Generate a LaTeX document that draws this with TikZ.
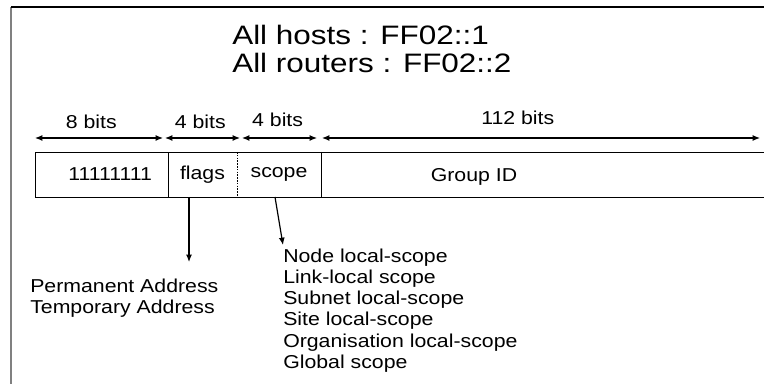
\documentclass[tikz,border=0pt]{standalone}
\usepackage{fontspec}
\setmainfont{Liberation Sans}
\newfontfamily\largefont[FakeStretch=1.18]{Liberation Sans}
\newfontfamily\moyenfont[FakeStretch=1.14]{Liberation Sans}
\usepackage{tikz}
\usetikzlibrary{positioning,arrows.meta}

\begin{document}
\begin{tikzpicture}[x=0.75pt,y=-0.75pt]
% Polices
\def\Titre{\largefont\fontsize{20}{20.3}\selectfont}
\def\Texte{\moyenfont\fontsize{14}{15.8}\selectfont}
% Styles
\tikzstyle{fleche}=[-{Latex[length=5.5pt,width=4.5pt]},line width=0.9pt]
\tikzstyle{cote}=[{Latex[length=5.5pt,width=4.5pt]}-{Latex[length=5.5pt,width=4.5pt]},line width=0.9pt]
\tikzstyle{champ}=[minimum height=33.75pt,inner sep=0pt,outer sep=0pt,font=\Texte]
\tikzstyle{texte}=[inner sep=0pt,align=left,font=\Texte]
\tikzstyle{etiquette}=[inner sep=0pt,font=\Texte]
\useasboundingbox (0,0) rectangle (764,384);
% Cadre
\draw[gray,line width=1.1pt] (11,384) -- (11,7);
\draw[line width=0.9pt] (11,7) -- (764,7);
% Titre
\node[texte,font=\Titre,anchor=west] (titre) at (232,49) {All hosts : FF02::1\\All routers : FF02::2};
% Champs de l'adresse
\node[champ,draw,minimum width=99.75pt,text width=75.75pt,align=right] (octet) at (101.5,174.5) {11111111};
\node[champ,minimum width=51.75pt,right=0pt of octet] (flags) {flags};
\node[champ,minimum width=63pt,right=0pt of flags] (scope) {scope};
\node[champ,minimum width=229.5pt,text height=14pt,right=0pt of scope] (groupe) {Group ID};
\coordinate (bordH) at (766,152);
\coordinate (bordB) at (766,197);
\draw (octet.north east) -- (bordH);
\draw (octet.south east) -- (bordB);
\draw[dash pattern=on 1.2pt off 0.9pt] (flags.north east) -- (flags.south east);
\draw (scope.north east) -- (scope.south east);
% Cotes
\coordinate (a1) at (35,138);
\coordinate (a2) at (163,138);
\coordinate (a3) at (165,138);
\coordinate (a4) at (240,138);
\coordinate (a5) at (242,138);
\coordinate (a6) at (317,138);
\coordinate (a7) at (322,138);
\coordinate (a8) at (760,138);
\draw[cote] (a1) -- (a2) node[etiquette,pos=0.44,above=6.5pt] {8 bits};
\draw[cote] (a3) -- (a4) node[etiquette,pos=0.47,above=6.5pt] {4 bits};
\draw[cote] (a5) -- (a6) node[etiquette,pos=0.475,above=8pt] {4 bits};
\draw[cote] (a7) -- (a8) node[etiquette,pos=0.447,above=9.5pt] {112 bits};
% Renvois
\node[texte,anchor=west] (adresses) at (30,298) {Permanent Address\\Temporary Address};
\node[texte,anchor=north west] (portees) at (283,249) {Node local-scope\\Link-local scope\\Subnet local-scope\\Site local-scope\\Organisation local-scope\\Global scope};
\coordinate (p1) at (189,262);
\draw[fleche] (flags.south -| p1) -- (p1);
\draw[fleche] ([xshift=-3pt]scope.south) -- ([yshift=3pt]portees.north west);
\end{tikzpicture}
\end{document}
